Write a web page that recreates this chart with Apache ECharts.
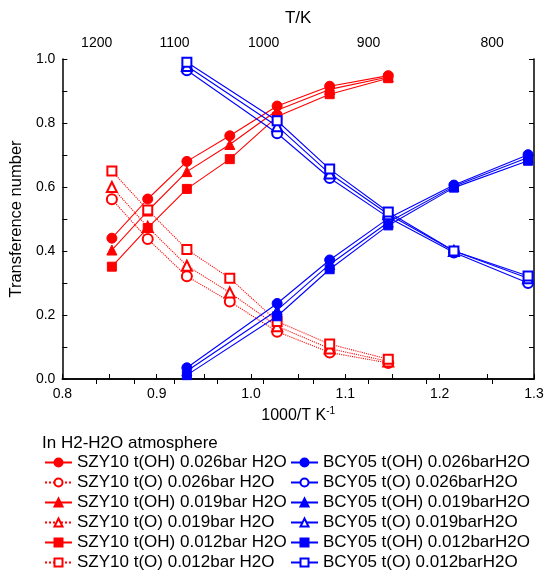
<!DOCTYPE html>
<html><head><meta charset="utf-8">
<script src="https://cdn.jsdelivr.net/npm/echarts@6/dist/echarts.min.js"></script>
<style>html,body{margin:0;padding:0;background:#fff}#c{width:548px;height:572px}</style>
</head><body><div id="c"></div>
<script>
// 1000/T positions
const xSZY = [0.8525, 0.8905, 0.932, 0.9775, 1.0277, 1.0834, 1.1455];
const xBCY = [0.932, 1.0277, 1.0834, 1.1455, 1.2151, 1.2937];
// SZY10 transference numbers
const szyOH026 = [0.44, 0.5625, 0.68, 0.76, 0.853, 0.915, 0.948];
const szyO026  = [0.5615, 0.4375, 0.321, 0.242, 0.148, 0.083, 0.05];
const szyOH019 = [0.403, 0.525, 0.648, 0.733, 0.84, 0.905, 0.944];
const szyO019  = [0.6, 0.475, 0.354, 0.27, 0.165, 0.095, 0.055];
const szyOH012 = [0.351, 0.472, 0.594, 0.687, 0.82, 0.89, 0.94];
const szyO012  = [0.65, 0.528, 0.405, 0.315, 0.18, 0.109, 0.062];
// BCY05 transference numbers
const bcyOH026 = [0.035, 0.236, 0.372, 0.502, 0.606, 0.701];
const bcyO026  = [0.965, 0.768, 0.628, 0.505, 0.395, 0.30];
const bcyOH019 = [0.025, 0.215, 0.358, 0.49, 0.602, 0.692];
const bcyO019  = [0.978, 0.79, 0.642, 0.515, 0.40, 0.315];
const bcyOH012 = [0.012, 0.196, 0.343, 0.48, 0.598, 0.682];
const bcyO012  = [0.99, 0.807, 0.656, 0.522, 0.40, 0.322];
// top axis (T/K) tick labels and their positions on the 1000/T axis
const topTickLabels = ['1200', '1150', '1100', '1050', '1000', '950', '900', '850', '800'];
const topTickPos    = [0.8364, 0.8764, 0.9189, 0.9643, 1.0134, 1.0665, 1.1246, 1.1861, 1.2557];
const topLabelShown = ['1200', '1100', '1000', '900', '800'];

const RED = '#ff0000', BLUE = '#0000ff';
function pairs(xs, ys){ return xs.map((x,i)=>[x, ys[i]]); }
function mk(name, xs, ys, color, symbol, dotted){
  return {
    name, type:'line', data: pairs(xs, ys), xAxisIndex:0, yAxisIndex:0,
    symbol, symbolSize: symbol.indexOf('ect')>=0 ? 9 : 10,
    showSymbol:true, animation:false,
    lineStyle:{color, width:1.1, type: dotted ? 'dotted' : 'solid'},
    itemStyle:{color, borderColor: color, borderWidth: 1},
    emphasis:{disabled:true}
  };
}
const series = [
  mk('SZY10 t(OH) 0.026bar H2O', xSZY, szyOH026, RED, 'circle', false),
  mk('SZY10 t(O) 0.026bar H2O',  xSZY, szyO026,  RED, 'emptyCircle', true),
  mk('SZY10 t(OH) 0.019bar H2O', xSZY, szyOH019, RED, 'triangle', false),
  mk('SZY10 t(O) 0.019bar H2O',  xSZY, szyO019,  RED, 'emptyTriangle', true),
  mk('SZY10 t(OH) 0.012bar H2O', xSZY, szyOH012, RED, 'rect', false),
  mk('SZY10 t(O) 0.012bar H2O',  xSZY, szyO012,  RED, 'emptyRect', true),
  mk('BCY05 t(OH) 0.026barH2O', xBCY, bcyOH026, BLUE, 'circle', false),
  mk('BCY05 t(O) 0.026barH2O',  xBCY, bcyO026,  BLUE, 'emptyCircle', false),
  mk('BCY05 t(OH) 0.019barH2O', xBCY, bcyOH019, BLUE, 'triangle', false),
  mk('BCY05 t(O) 0.019barH2O',  xBCY, bcyO019,  BLUE, 'emptyTriangle', false),
  mk('BCY05 t(OH) 0.012barH2O', xBCY, bcyOH012, BLUE, 'rect', false),
  mk('BCY05 t(O) 0.012barH2O',  xBCY, bcyO012,  BLUE, 'emptyRect', false)
];
const FONT = 'Liberation Sans';
const axisLine = {show:true, lineStyle:{color:'#000', width:1.5}};
const legendText = {fontSize:17, color:'#000', fontFamily:FONT};
const chart = echarts.init(document.getElementById('c'), null, {renderer:'canvas'});
chart.setOption({
  backgroundColor:'#fff',
  animation:false,
  textStyle:{fontFamily:FONT},
  title:{text:'In H2-H2O atmosphere', left:42, top:435, padding:0,
    textStyle:{fontSize:17, fontWeight:'normal', color:'#000', fontFamily:FONT}},
  grid:{left:60, right:14, top:59, bottom:193, containLabel:false},
  legend:[
    {data: series.slice(0,6).map(s=>s.name), orient:'vertical', left:44, top:454,
     itemWidth:27, itemHeight:10, itemGap:3, padding:0, textStyle:legendText},
    {data: series.slice(6).map(s=>s.name), orient:'vertical', left:290, top:454,
     itemWidth:27, itemHeight:10, itemGap:3, padding:0, textStyle:legendText}
  ],
  xAxis:[
    {type:'value', position:'bottom', min:0.8, max:1.3, interval:0.1,
     axisLine, splitLine:{show:false},
     axisTick:{show:true, inside:true, length:5, lineStyle:{color:'#000'}},
     minorTick:{show:true, splitNumber:2, length:5, lineStyle:{color:'#000'}},
     axisLabel:{color:'#000', fontSize:14, margin:8, formatter:v=>v.toFixed(1)},
     name:'1000/T K{sup|-1}', nameLocation:'middle', nameGap:26,
     nameTextStyle:{color:'#000', fontSize:16, fontFamily:FONT,
       rich:{sup:{fontSize:10, padding:[0,0,10,0], color:'#000', fontFamily:FONT}}}},
    {type:'value', position:'top', min:0.8, max:1.3,
     axisLine, splitLine:{show:false},
     axisTick:{show:true, inside:true, length:5, customValues: topTickPos, lineStyle:{color:'#000'}},
     axisLabel:{color:'#000', fontSize:14, margin:9,
       customValues: topTickPos.filter((p,i)=>topLabelShown.indexOf(topTickLabels[i])>=0),
       formatter:v=>{ let best=0; topTickPos.forEach((p,i)=>{ if(Math.abs(p-v)<Math.abs(topTickPos[best]-v)) best=i; }); return topTickLabels[best]; }},
     name:'T/K', nameLocation:'middle', nameGap:32,
     nameTextStyle:{color:'#000', fontSize:17, fontFamily:FONT}}
  ],
  yAxis:[
    {type:'value', position:'left', min:0, max:1, interval:0.2,
     axisLine, splitLine:{show:false},
     axisTick:{show:true, inside:true, length:5, lineStyle:{color:'#000'}},
     minorTick:{show:true, splitNumber:2, length:5, lineStyle:{color:'#000'}},
     axisLabel:{color:'#000', fontSize:14, margin:7, formatter:v=>v.toFixed(1)},
     name:'Transference number', nameLocation:'middle', nameGap:32,
     nameTextStyle:{color:'#000', fontSize:16.5, fontFamily:FONT}},
    {type:'value', position:'right', min:0, max:1, interval:0.1,
     axisLine, splitLine:{show:false},
     axisTick:{show:true, inside:true, length:5, lineStyle:{color:'#000'}},
     axisLabel:{show:false}}
  ],
  series
});
</script></body></html>
